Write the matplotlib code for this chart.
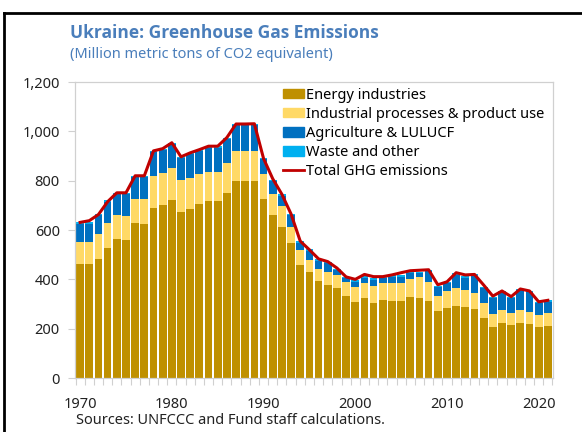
import matplotlib
matplotlib.use("Agg")
import matplotlib.pyplot as plt
from matplotlib.lines import Line2D
from matplotlib.patches import Patch
import numpy as np

plt.rcParams['font.family'] = ['Noto Sans', 'DejaVu Sans']

years = list(range(1970, 2022))
energy = [461, 461, 484, 528, 562, 559, 627, 624, 688, 700,
          720, 672, 686, 705, 716, 716, 751, 800, 800, 800,
          724, 661, 613, 546, 458, 428, 393, 377, 363, 332,
          309, 323, 303, 316, 312, 312, 328, 324, 312, 273,
          284, 293, 288, 280, 244, 208, 223, 215, 223, 218,
          206, 211]
industrial = [92, 92, 98, 99, 99, 99, 99, 100, 132, 132,
              133, 131, 126, 122, 119, 119, 119, 120, 120, 120,
              103, 85, 84, 67, 61, 50, 51, 54, 54, 58,
              62, 63, 70, 68, 72, 72, 73, 84, 78, 61,
              69, 73, 70, 66, 59, 51, 53, 47, 53, 51,
              51, 51]
agriculture = [72, 73, 79, 88, 84, 87, 88, 90, 95, 92,
               95, 88, 95, 93, 99, 99, 99, 104, 104, 105,
               61, 51, 43, 46, 30, 38, 31, 34, 21, 15,
               20, 21, 25, 21, 27, 27, 24, 17, 42, 33,
               31, 52, 49, 68, 62, 65, 72, 62, 80, 78,
               46, 48]
waste = [6] * 52
total = [631, 638, 663, 715, 751, 751, 820, 820, 921, 930,
         954, 897, 913, 926, 940, 940, 975, 1030, 1030, 1031,
         890, 808, 745, 665, 555, 520, 483, 472, 446, 410,
         400, 420, 411, 411, 418, 427, 435, 437, 439, 378,
         390, 427, 418, 420, 377, 332, 353, 330, 361, 353,
         309, 315]

labels = ["Energy industries", "Industrial processes & product use",
          "Agriculture & LULUCF", "Waste and other", "Total GHG emissions"]
colors = ["#BF9000", "#FFD966", "#0070C0", "#00B0F0"]
line_color = "#C00000"
title_color = "#4A7EBB"
xtick_years = [1970, 1980, 1990, 2000, 2010, 2020]

fig = plt.figure(figsize=(5.82, 4.32), dpi=100)
ax = fig.add_axes([0.129, 0.125, 0.821, 0.685])

x = np.array(years)
e = np.array(energy); i_ = np.array(industrial); a = np.array(agriculture); w = np.array(waste)
w_bar = 0.84
ax.bar(x, e, width=w_bar, color=colors[0], zorder=2)
ax.bar(x, i_, bottom=e, width=w_bar, color=colors[1], zorder=2)
ax.bar(x, a, bottom=e + i_, width=w_bar, color=colors[2], zorder=2)
ax.bar(x, w, bottom=e + i_ + a, width=w_bar, color=colors[3], zorder=2)
ax.plot(x, total, color=line_color, lw=2.2, zorder=3)

ax.set_xlim(years[0] - 0.55, years[-1] + 0.55)
ax.set_ylim(0, 1200)
ax.set_yticks(range(0, 1201, 200))
ax.set_yticklabels([f"{v:,}" for v in range(0, 1201, 200)])
ax.set_xticks(xtick_years)
ax.set_xticks(np.arange(years[0] - 0.5, years[-1] + 1, 1), minor=True)
ax.tick_params(axis='x', which='major', length=0, pad=14, labelsize=10.5, colors='#222222')
ax.tick_params(axis='x', which='minor', length=5, width=0.8, color='#D0D0D0')
ax.tick_params(axis='y', length=5, width=0.8, color='#D0D0D0', labelsize=10.5,
               labelcolor='#222222', pad=6)
for s in ax.spines.values():
    s.set_color('#D0D0D0')
    s.set_linewidth(0.9)

handles = [Patch(color=c) for c in colors] + [Line2D([0], [0], color=line_color, lw=2)]
leg = ax.legend(handles, labels, loc='upper right', bbox_to_anchor=(1.0, 1.01),
                frameon=False, fontsize=10.5, handlelength=1.4, handleheight=0.6,
                handletextpad=0.15, labelspacing=0.28, borderaxespad=0.2)

fig.text(0.121, 0.924, "Ukraine: Greenhouse Gas Emissions", fontsize=12.5,
         fontweight='bold', family=['Open Sans', 'DejaVu Sans'], color=title_color, va='center')
fig.text(0.121, 0.873, "(Million metric tons of CO2 equivalent)", fontsize=10.5,
         color=title_color, va='center')
fig.text(0.130, 0.027, "Sources: UNFCCC and Fund staff calculations.", fontsize=10.5,
         color='#222222', va='center')

fig.add_artist(Line2D([0.007, 1.0], [0.970, 0.970], color='black', lw=2,
                      transform=fig.transFigure))
fig.add_artist(Line2D([0.007, 0.007], [0.0, 0.970], color='black', lw=2,
                      transform=fig.transFigure))

fig.savefig("out.png", dpi=100)
